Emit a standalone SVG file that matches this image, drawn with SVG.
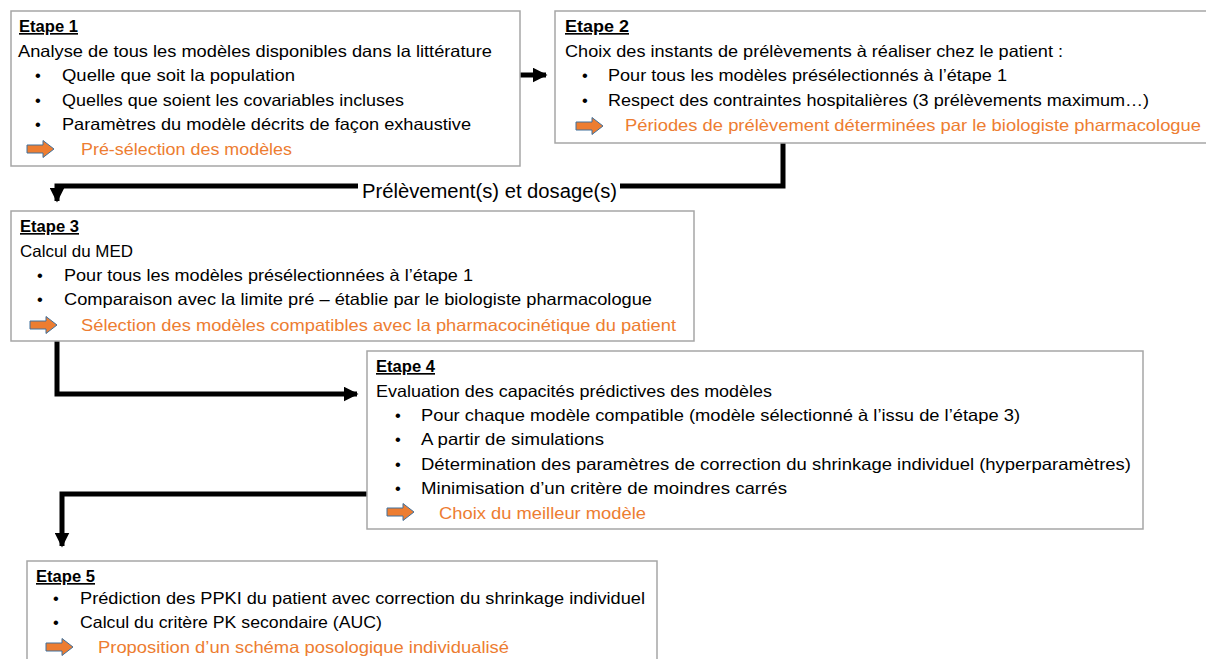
<svg xmlns="http://www.w3.org/2000/svg" xmlns:xlink="http://www.w3.org/1999/xlink" width="1206" height="659" viewBox="0 0 1206 659">
<style>
.box{fill:#fff;stroke:#a6a6a6;stroke-width:1.5}
text{font-family:"Liberation Sans",Arial,sans-serif;font-size:16.5px;fill:#000}
.h{font-weight:bold;text-decoration:underline}
.o{fill:#ed7d31}
.c{fill:none;stroke:#000;stroke-width:5}
.lbl{font-size:20px}
</style>
<defs>
<g id="oarrow"><polygon points="0,-4 16,-4 16,-8.5 27,0 16,8.5 16,4 0,4" fill="#ed7d31" stroke="#41719c" stroke-width="1"/></g>
<marker id="ah" viewBox="0 0 10 10" refX="9" refY="5" markerWidth="3" markerHeight="3" orient="auto" markerUnits="strokeWidth"><path d="M0,0 L10,5 L0,10 Z" fill="#000"/></marker>
</defs>
<rect width="1206" height="659" fill="#fff"/>
<g id="connectors">
<path class="c" d="M520,75 H546" marker-end="url(#ah)"/>
<path class="c" d="M783,143 V186 H620"/>
<path class="c" d="M358,186 H57 V201" marker-end="url(#ah)"/>
<path class="c" d="M57,341 V394 H357" marker-end="url(#ah)"/>
<path class="c" d="M367,494 H62 V546" marker-end="url(#ah)"/>
<text class="lbl" x="362" y="198" textLength="255" lengthAdjust="spacingAndGlyphs">Prélèvement(s) et dosage(s)</text>
</g>
<g id="etape1">
<rect class="box" x="11" y="11" width="509" height="155"/>
<text class="h" x="19" y="32" textLength="59" lengthAdjust="spacingAndGlyphs">Etape 1</text>
<text x="18" y="57" textLength="474" lengthAdjust="spacingAndGlyphs">Analyse de tous les modèles disponibles dans la littérature</text>
<text x="35" y="81">•</text><text x="62" y="81" textLength="233" lengthAdjust="spacingAndGlyphs">Quelle que soit la population</text>
<text x="35" y="106">•</text><text x="62" y="106" textLength="342" lengthAdjust="spacingAndGlyphs">Quelles que soient les covariables incluses</text>
<text x="35" y="130">•</text><text x="62" y="130" textLength="409" lengthAdjust="spacingAndGlyphs">Paramètres du modèle décrits de façon exhaustive</text>
<use xlink:href="#oarrow" x="27" y="149"/>
<text class="o" x="81" y="155" textLength="211" lengthAdjust="spacingAndGlyphs">Pré-sélection des modèles</text>
</g>
<g id="etape2">
<rect class="box" x="555" y="11" width="660" height="132"/>
<text class="h" x="565" y="32" textLength="64" lengthAdjust="spacingAndGlyphs">Etape 2 </text>
<text x="565" y="57" textLength="498" lengthAdjust="spacingAndGlyphs">Choix des instants de prélèvements à réaliser chez le patient :</text>
<text x="582" y="81">•</text><text x="608" y="81" textLength="399" lengthAdjust="spacingAndGlyphs">Pour tous les modèles présélectionnés à l’étape 1</text>
<text x="582" y="106">•</text><text x="608" y="106" textLength="541" lengthAdjust="spacingAndGlyphs">Respect des contraintes hospitalières (3 prélèvements maximum…)</text>
<use xlink:href="#oarrow" x="576" y="126"/>
<text class="o" x="625" y="131" textLength="576" lengthAdjust="spacingAndGlyphs">Périodes de prélèvement déterminées par le biologiste pharmacologue</text>
</g>
<g id="etape3">
<rect class="box" x="11" y="211" width="683" height="130"/>
<text class="h" x="20" y="232" textLength="59" lengthAdjust="spacingAndGlyphs">Etape 3</text>
<text x="20" y="257" textLength="113" lengthAdjust="spacingAndGlyphs">Calcul du MED</text>
<text x="37" y="281">•</text><text x="64" y="281" textLength="409" lengthAdjust="spacingAndGlyphs">Pour tous les modèles présélectionnées à l’étape 1</text>
<text x="37" y="305">•</text><text x="64" y="305" textLength="588" lengthAdjust="spacingAndGlyphs">Comparaison avec la limite pré – établie par le biologiste pharmacologue</text>
<use xlink:href="#oarrow" x="30" y="325"/>
<text class="o" x="81" y="331" textLength="595" lengthAdjust="spacingAndGlyphs">Sélection des modèles compatibles avec la pharmacocinétique du patient</text>
</g>
<g id="etape4">
<rect class="box" x="367" y="351" width="776" height="178"/>
<text class="h" x="376" y="372" textLength="59" lengthAdjust="spacingAndGlyphs">Etape 4</text>
<text x="376" y="397" textLength="396" lengthAdjust="spacingAndGlyphs">Evaluation des capacités prédictives des modèles</text>
<text x="395" y="421">•</text><text x="421" y="421" textLength="599" lengthAdjust="spacingAndGlyphs">Pour chaque modèle compatible (modèle sélectionné à l’issu de l’étape 3)</text>
<text x="395" y="445">•</text><text x="421" y="445" textLength="183" lengthAdjust="spacingAndGlyphs">A partir de simulations</text>
<text x="395" y="470">•</text><text x="421" y="470" textLength="710" lengthAdjust="spacingAndGlyphs">Détermination des paramètres de correction du shrinkage individuel (hyperparamètres)</text>
<text x="395" y="494">•</text><text x="421" y="494" textLength="366" lengthAdjust="spacingAndGlyphs">Minimisation d’un critère de moindres carrés</text>
<use xlink:href="#oarrow" x="387" y="512"/>
<text class="o" x="439" y="519" textLength="207" lengthAdjust="spacingAndGlyphs">Choix du meilleur modèle</text>
</g>
<g id="etape5">
<rect class="box" x="27" y="561" width="630" height="110"/>
<text class="h" x="36" y="582" textLength="59" lengthAdjust="spacingAndGlyphs">Etape 5</text>
<text x="53" y="604">•</text><text x="80" y="604" textLength="565" lengthAdjust="spacingAndGlyphs">Prédiction des PPKI du patient avec correction du shrinkage individuel</text>
<text x="53" y="628">•</text><text x="80" y="628" textLength="302" lengthAdjust="spacingAndGlyphs">Calcul du critère PK secondaire (AUC)</text>
<use xlink:href="#oarrow" x="46" y="647"/>
<text class="o" x="98" y="653" textLength="411" lengthAdjust="spacingAndGlyphs">Proposition d’un schéma posologique individualisé</text>
</g>
</svg>
